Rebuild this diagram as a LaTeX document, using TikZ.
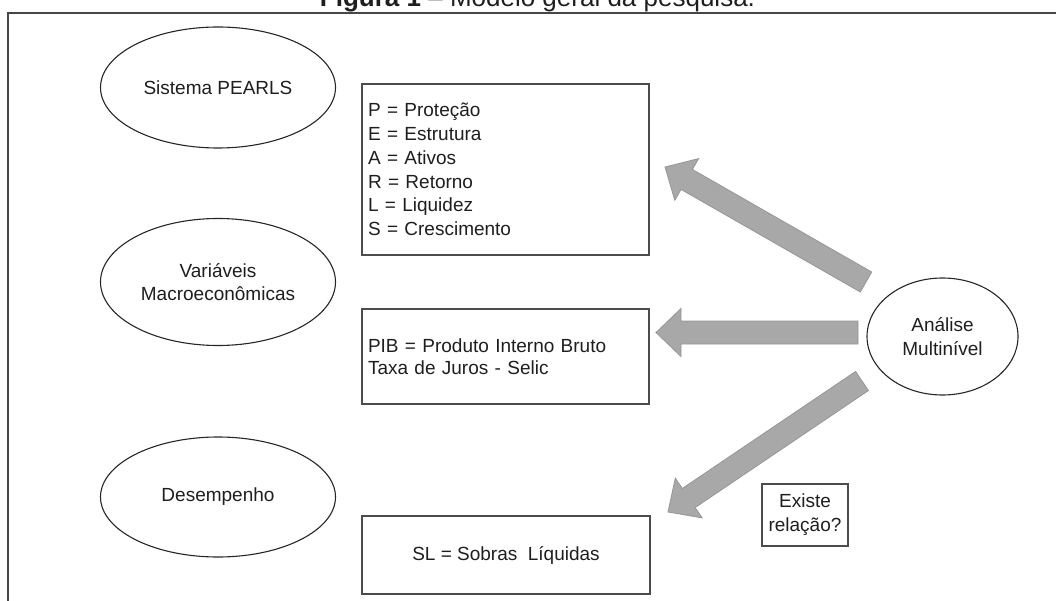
\documentclass[tikz,border=0pt]{standalone}
\usepackage{fontspec}
\setmainfont{Liberation Sans}
\usetikzlibrary{shapes.geometric,calc}
\definecolor{arrfill}{RGB}{168,168,168}
\definecolor{arrline}{RGB}{150,150,150}
\definecolor{frameline}{RGB}{70,70,70}
\definecolor{txt}{RGB}{30,30,30}
\newcommand\blockarr[2]{%
  \coordinate (hb) at ($(#2)!25pt!(#1)$);
  \fill[fill=arrfill, draw=arrline, line width=0.8pt] (#2) -- ($(hb)!24pt!90:(#1)$) -- ($(hb)!11.5pt!90:(#1)$) -- ($(#1)!11.5pt!-90:(#2)$) -- ($(#1)!11.5pt!90:(#2)$) -- ($(hb)!11.5pt!-90:(#1)$) -- ($(hb)!24pt!-90:(#1)$) -- cycle;}
\tikzset{
  body/.style={font=\fontsize{19}{23.8}\selectfont, text=txt},
  oval/.style={body, ellipse, draw=black!85, line width=1.1pt, inner sep=0pt, align=center},
  infobox/.style={body, rectangle, draw=black!70, line width=1.2pt, inner sep=0pt},
}
\begin{document}
\begin{tikzpicture}[x=1pt,y=-1pt]
\useasboundingbox (0,0) rectangle (1056,601);
% title (clipped at top, as in the reference)
\node[anchor=base, font=\fontsize{26}{30}\selectfont, text=txt, inner sep=0pt] (title) at (537.5,7) {\textbf{Figura 1} – Modelo geral da pesquisa.};
% frame
\draw[frameline, line width=1.6pt] (1056,13) -- (8,13) -- (8,601);
% ellipses
\node[oval, minimum width=235pt, minimum height=121pt] (pearls) at (218,87.5) {Sistema PEARLS};
\node[oval, minimum width=235pt, minimum height=127pt] (macro) at (218,282) {Variáveis\\Macroeconômicas};
\node[oval, minimum width=235pt, minimum height=120pt] (desemp) at (218,497) {Desempenho};
\node[oval, minimum width=151pt, minimum height=117pt] (multi) at (942.5,336.5) {Análise\\Multinível};
% boxes
\node[infobox, minimum width=287pt, minimum height=171pt, text width=275pt, align=left] (box1) at (505.5,169.5) {P = Proteção\\E = Estrutura\\A = Ativos\\R = Retorno\\L = Liquidez\\S = Crescimento};
\node[infobox, minimum width=287pt, minimum height=95pt, text width=275pt, align=left, font=\fontsize{19}{22}\selectfont] (box2) at (505.5,356.5) {PIB = Produto Interno Bruto\\Taxa de Juros - Selic};
\node[infobox, minimum width=288pt, minimum height=78pt, align=center] (box3) at (506,555) {SL = Sobras\ \ Líquidas};
\node[infobox, minimum width=86pt, minimum height=62pt, align=center] (box4) at (805,515) {Existe\\relação?};
% arrow end points
\coordinate (a1s) at (866,282);
\coordinate (a1e) at (665,167);
\coordinate (a2s) at (858,332.5);
\coordinate (a2e) at (656,332.5);
\coordinate (a3s) at (862,381);
\coordinate (a3e) at (668,512);
\blockarr{a1s}{a1e}
\blockarr{a2s}{a2e}
\blockarr{a3s}{a3e}
\end{tikzpicture}
\end{document}
